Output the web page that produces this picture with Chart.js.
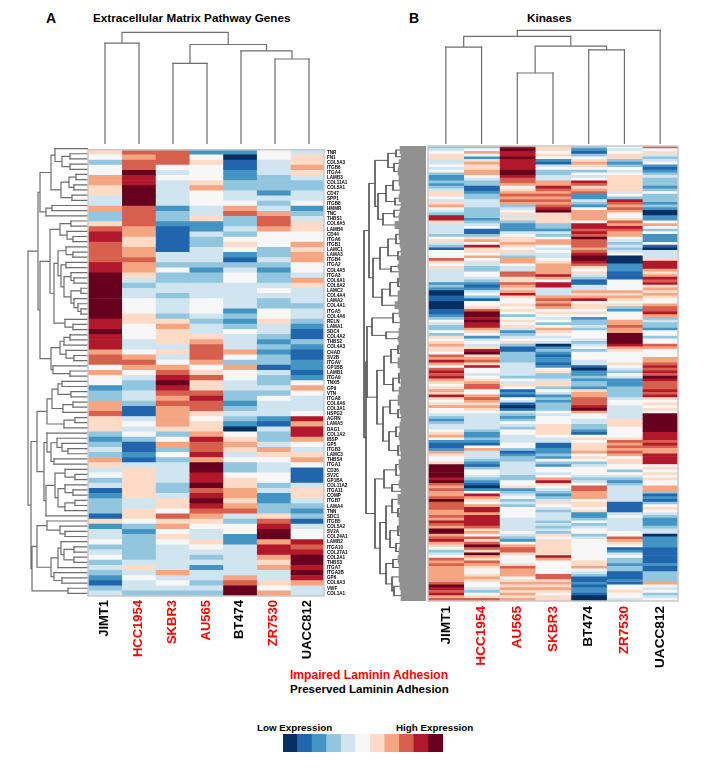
<!DOCTYPE html>
<html>
<head>
<meta charset="utf-8">
<script src="https://cdn.jsdelivr.net/npm/chart.js@4"></script>
<style>
  html, body { margin: 0; padding: 0; background: #fff; }
  body { position: relative; width: 710px; height: 781px; overflow: hidden; font-family: "Liberation Sans", Arial, sans-serif; }
  canvas { position: absolute; filter: blur(0.4px); }
  .txt { position: absolute; font-weight: bold; white-space: nowrap; line-height: 1; color: #000; }
</style>
</head>
<body>
<div class="txt" style="left:46px;top:11px;font-size:14px">A</div>
<div class="txt" style="left:93px;top:12px;font-size:11.7px">Extracellular Matrix Pathway Genes</div>
<div class="txt" style="left:409px;top:11px;font-size:14px">B</div>
<div class="txt" style="left:527px;top:12px;font-size:11.7px">Kinases</div>
<div class="txt" style="left:290px;top:669px;font-size:12.1px;color:#ff0000">Impaired Laminin Adhesion</div>
<div class="txt" style="left:290px;top:684px;font-size:11.55px">Preserved Laminin Adhesion</div>
<div class="txt" style="left:257px;top:723px;font-size:9.8px">Low Expression</div>
<div class="txt" style="left:396px;top:723px;font-size:9.8px">High Expression</div>

<canvas id="tree-top-a" width="238" height="122" style="left:88px;top:22px"></canvas>
<canvas id="tree-top-b" width="250" height="122" style="left:428px;top:22px"></canvas>
<canvas id="tree-row-a" width="64" height="450" style="left:24px;top:146px"></canvas>
<canvas id="tree-row-b" width="66" height="455" style="left:360px;top:146px"></canvas>
<canvas id="heat-a" width="272" height="532" style="left:86px;top:144px"></canvas>
<canvas id="heat-b" width="262" height="537" style="left:426px;top:144px"></canvas>
<canvas id="key" width="160" height="18" style="left:283px;top:734px"></canvas>

<script>
const RDBU = ["#053061", "#2166ac", "#4393c3", "#92c5de", "#d1e5f0", "#f7f7f7", "#fddbc7", "#f4a582", "#d6604d", "#b2182b", "#67001f"];
const IMPAIRED = ["HCC1954", "SKBR3", "AU565", "ZR7530"];

const samplesA = ["JIMT1", "HCC1954", "SKBR3", "AU565", "BT474", "ZR7530", "UACC812"];
const samplesB = ["JIMT1", "HCC1954", "AU565", "SKBR3", "BT474", "ZR7530", "UACC812"];

const genesA = ["TNR", "FN1", "COL5A3", "ITGB6", "ITGA4", "LAMB3", "COL11A1", "COL5A1", "CD47", "SPP1",
  "ITGB8", "HMMR", "TNC", "THBS1", "COL6A5", "LAMB4", "CD44", "ITGA6", "ITGB1", "LAMC1",
  "LAMA3", "ITGB4", "ITGA2", "COL4A5", "ITGA3", "COL6A1", "COL6A2", "LAMC2", "COL4A4", "LAMA2",
  "COL4A1", "ITGA5", "COL4A6", "RELN", "LAMA1", "SDC4", "COL4A2", "THBS2", "COL4A3", "CHAD",
  "SV2B", "ITGAV", "GP1BB", "LAMB1", "ITGA9", "TNXB", "GP9", "VTN", "ITGA8", "COL6A6",
  "COL3A1", "HSPG2", "AGRN", "LAMA5", "DAG1", "COL1A2", "IBSP", "GP5", "ITGB3", "LAMC3",
  "THBS4", "ITGA1", "CD36", "SV2C", "GP1BA", "COL11A2", "ITGA11", "COMP", "ITGB7", "LAMA4",
  "TNN", "SDC1", "ITGB5", "COL5A2", "SV2A", "COL24A1", "LAMB2", "ITGA10", "COL27A1", "COL2A1",
  "THBS3", "ITGA7", "ITGA2B", "GP6", "COL6A3", "VWF", "COL1A1"];

// expression levels, 0 = darkest blue, 10 = darkest red
const jimt1A = [6,5,3,5,5,7,7,6,6,4, 4,7,3,3,6,8,9,9,8,8, 8,8,9,9,10,10,10,10,10,10, 10,10,10,9,9,10,9,9,9,7, 8,8,5,7,5,5,2,3,3,7, 7,8,6,6,6,3,2,3,4,3, 7,6,4,5,3,4,1,2,3,3, 3,1,6,2,4,4,5,3,4,5, 3,4,3,2,1,3,4];
const hcc1954A = [8,7,8,8,10,9,9,10,10,10, 10,8,8,8,8,7,7,6,6,7, 7,8,7,7,6,4,3,4,4,5, 5,5,6,6,5,5,5,4,4,5, 7,8,7,5,4,3,3,4,4,3, 1,1,4,5,4,5,3,1,1,2, 1,4,6,6,6,6,6,6,4,4, 6,6,5,3,2,3,3,3,3,3, 4,6,4,5,4,4,3];
const skbr3A = [8,8,8,5,4,5,4,4,4,4, 4,2,3,3,2,1,1,1,1,1, 4,4,3,5,3,3,4,4,3,4, 4,4,3,6,7,6,6,6,4,6, 4,5,7,8,9,10,9,8,7,8, 7,7,7,7,6,3,5,7,3,5, 3,4,4,4,4,3,3,4,6,6, 5,8,6,7,5,6,5,4,4,4, 4,4,7,4,5,4,3];
const au565A = [2,5,6,5,5,5,6,7,5,5, 5,4,4,6,2,2,4,3,3,4, 4,4,3,2,3,3,4,4,4,5, 5,5,4,3,4,4,6,7,8,8, 8,7,5,6,8,6,6,8,9,8, 8,6,5,6,6,7,9,8,8,9, 7,10,10,9,9,10,8,9,10,9, 8,7,6,5,4,4,6,5,4,3, 4,2,4,4,3,4,3];
const bt474A = [2,0,1,1,2,2,3,3,4,4, 5,7,8,3,3,4,3,5,6,5, 2,1,3,4,5,5,4,4,4,4, 4,2,3,2,3,5,4,4,4,7, 5,3,7,5,5,4,4,3,3,2, 3,4,3,2,0,5,6,7,6,4, 5,3,3,5,6,6,7,7,6,7, 8,4,3,5,5,2,2,4,4,4, 4,4,4,7,8,10,10];
const zr7530A = [5,5,4,4,4,3,3,3,2,4, 3,4,7,8,8,7,5,5,5,3, 3,4,3,2,3,3,4,5,4,3, 3,5,5,6,4,4,3,2,3,2, 3,3,1,4,3,3,4,3,5,4, 4,4,2,1,4,3,3,4,7,6, 5,4,4,5,5,3,4,2,2,3, 3,6,8,9,10,10,7,9,9,7, 6,7,4,4,6,5,7];
const uacc812A = [4,6,6,7,6,4,3,3,4,4, 5,2,3,4,6,6,5,5,7,6, 7,7,5,5,4,7,6,4,4,4, 3,4,4,3,2,1,1,3,2,1, 1,2,2,1,2,5,7,5,4,4, 4,5,9,7,9,9,7,5,4,6, 7,5,1,1,1,4,6,6,4,3, 2,3,1,4,5,5,9,8,9,10, 10,9,10,9,7,4,4];

const jimt1B = [3,4,5,6,6,4,4,5,4,5, 3,2,2,3,2,3,4,6,6,5, 4,6,7,5,4,3,9,9,6,4, 4,4,4,3,5,6,4,3,1,5, 5,5,8,6,5,6,4,4,4,4, 4,2,3,2,0,0,1,1,0,0, 0,1,1,2,3,5,4,3,3,5, 3,6,5,6,7,6,6,5,8,7, 9,7,5,8,9,8,9,7,6,5, 6,7,6,9,6,5,6,7,5,5, 4,3,2,3,4,4,5,6,7,5, 2,1,1,2,7,6,5,5,6,10, 10,10,10,10,9,10,8,7,8,7, 7,8,10,8,8,8,7,7,8,7, 9,8,7,10,10,7,8,9,7,6, 5,3,4,5,8,7,8,7,7,7, 7,7,7,8,10,9,8,9,7,8];
const hcc1954B = [3,5,7,5,2,6,7,6,6,7, 7,5,4,3,3,1,1,2,3,3, 4,4,4,3,3,3,3,2,3,4, 5,1,1,3,6,7,5,9,6,6, 5,7,5,4,4,3,3,5,5,4, 3,2,1,2,4,5,3,1,5,5, 6,8,10,10,9,10,9,9,7,6, 5,2,4,5,4,6,9,10,6,7, 8,6,9,5,5,4,5,6,7,8, 8,5,5,7,8,7,6,7,6,5, 4,4,4,4,4,4,3,2,2,3, 2,1,5,7,4,4,4,3,2,1, 3,5,5,4,3,2,1,0,2,5, 9,7,6,5,7,9,9,7,9,9, 9,9,8,6,7,5,8,6,8,10, 8,6,10,7,6,8,7,6,5,5, 6,7,6,5,5,4,3,5,6,8];
const au565B = [9,10,9,9,10,9,9,9,9,10, 10,9,8,8,7,5,6,7,8,7, 8,7,3,4,5,6,4,6,3,2, 2,2,4,5,6,6,7,6,5,6, 4,3,7,7,5,4,4,8,8,6, 6,8,7,6,7,9,6,5,5,6, 5,6,5,3,5,6,5,6,4,2, 3,4,5,6,3,1,1,3,3,3, 3,4,4,4,4,4,3,5,4,6, 5,1,2,1,5,4,1,0,1,4, 3,2,3,5,4,3,5,5,4,4, 4,5,5,3,1,2,3,3,4,4, 4,4,4,3,3,5,5,6,2,3, 4,5,3,4,3,5,5,5,5,4, 4,4,4,4,5,4,3,2,5,7, 8,8,6,5,5,5,6,8,7,7, 7,5,6,7,6,7,6,7,6,7];
const skbr3B = [6,6,5,6,5,2,1,4,5,3, 3,4,4,7,7,9,8,7,8,7, 8,7,8,9,10,6,6,6,6,3, 3,2,4,3,5,7,7,5,4,5, 4,4,5,6,7,7,7,7,9,7, 5,9,9,4,4,4,7,8,7,8, 7,5,6,5,4,5,3,5,7,6, 5,4,5,4,0,2,3,2,1,2, 2,1,2,5,6,3,3,4,6,6, 3,5,4,2,3,2,3,3,3,5, 4,5,5,5,6,6,6,6,5,4, 4,1,1,2,2,3,2,5,3,2, 5,5,4,5,7,9,6,5,4,3, 2,3,4,6,5,4,3,4,4,4, 3,4,3,4,3,6,5,6,6,6, 6,6,6,9,7,5,5,5,5,5, 8,8,6,7,6,7,6,5,6,6];
const bt474B = [3,2,1,3,5,6,7,6,5,3, 5,4,5,9,8,6,7,8,2,2, 4,3,2,5,7,7,7,7,5,9, 9,8,9,8,10,8,8,8,7,8, 9,10,10,9,8,6,5,6,4,3, 1,1,4,4,7,6,7,9,5,6, 6,5,6,5,2,3,3,4,3,5, 5,5,4,3,4,5,3,5,5,5, 4,4,1,0,2,2,3,2,3,3, 2,6,7,7,8,8,8,9,10,7, 5,5,4,4,3,3,2,1,5,6, 5,6,6,6,7,5,6,5,3,4, 5,5,5,4,3,4,5,8,8,7, 7,7,5,6,6,5,6,2,2,3, 5,3,4,5,5,3,4,5,5,5, 5,5,5,5,5,6,6,7,5,4, 3,1,1,2,1,2,2,1,0,0];
const zr7530B = [5,4,5,6,6,3,2,3,5,4, 5,6,6,6,6,6,6,4,5,3, 9,8,7,8,7,5,5,6,8,7, 9,8,7,7,5,4,3,4,3,4, 5,0,0,0,2,2,2,1,1,1, 5,5,5,5,7,6,7,6,5,6, 3,2,5,5,5,7,7,8,7,7, 10,10,10,10,9,7,6,5,5,5, 5,6,5,4,3,5,4,2,2,2, 3,3,3,3,4,5,5,4,4,4, 4,4,6,6,6,5,5,5,5,6, 8,7,8,7,8,7,5,6,6,5, 5,3,5,4,3,2,3,4,4,4, 4,4,4,1,1,1,1,4,5,4, 4,4,4,4,5,5,8,7,6,5, 1,2,4,5,3,3,2,3,3,1, 1,1,2,1,5,5,6,5,5,4];
const uacc812B = [8,5,6,4,3,4,5,2,1,2, 3,4,3,3,3,2,3,5,3,3, 3,2,3,2,0,0,2,2,5,7, 5,3,5,2,2,2,5,1,0,4, 4,4,6,9,9,9,7,6,7,9, 8,9,6,7,6,7,6,5,5,7, 8,8,9,7,3,4,3,3,2,5, 5,3,5,5,8,7,5,5,5,7, 7,8,9,8,9,8,10,9,8,8, 8,9,8,9,6,5,6,5,6,5, 10,10,10,10,10,10,10,9,9,9, 8,9,8,7,7,9,9,9,9,5, 6,5,6,5,6,5,5,7,7,3, 1,2,1,3,5,6,5,4,3,2, 2,2,3,4,4,0,2,2,2,2, 1,1,1,1,1,1,2,1,1,3, 3,3,3,7,5,4,5,3,4,5];

const keyLevels = [0, 1, 2, 3, 4, 5, 6, 7, 8, 9, 10];

// dendrograms: [height, left, right], 0 = leaf, [height, n] = n leaves joined at one height
const colTreeA = [110.7, [100, 0, 0], [98.7, [80, 0, 0], [92.3, 0, [84.3, 0, 0]]]];
const colTreeB = [112.7, [106.7, [96, 0, 0], [97, [70.4, 0, 0], [93.4, 0, 0]]], 0];

const rowTreeA = [60,
  [50,
    [48,
      [37,
        [33, 0, [26, [18, 0, 0], [18, 0, 0]]],
        [27, [19, [12, 0, 0], [14, 0, 0]], [16, 0, 0]]],
      [42, [36, 0, 0], 0]],
    [48,
      [38,
        [28, [17, 0, 0], [21, 0, [15, 0, 0]]],
        [34,
          [30,
            [22, 0, [15, 0, 0]],
            [27, [22, 0, 0], [24, [17, 0, [14, 0, 0]], [17, [7, 0, 0], [14, 0, [10, 0, [7, 0, 0]]]]]]],
          [23, 0, [15, 0, 0]]]],
      [37,
        [28, [24, [18, 0, 0], 0], [22, 0, [14, 0, 0]]],
        [35, 0, [18, 0, 0]]]]],
  [57,
    [51,
      [41,
        [36, [30, [26, 0, 0], [17, 0, 0]], [25, [15, 0, 0], 0]],
        [24, [13, 0, 0], 0]],
      [44,
        [41, 0, [37, [31, 0, [26, 0, [20, 0, 0]]], [34, 0, 0]]],
        [42,
          [33, [23, 0, [13, 0, 0]], [30, [23, 0, [15, 0, 0]], [23, [13, 0, 0], 0]]],
          0]]],
    [56,
      [51,
        [41, 0, [28, 0, [23, 0, 0]]],
        [37,
          [30, [27, 0, [24, [14, 0, 0], [14, 0, 0]]], 0],
          [34, 0, [26, 0, 0]]]],
      [20, 0, 0]]]];

const rowTreeB = [62,
  [57,
    [51,
      [38, [30, [25, 3], [24, 2]], [32, [26, 3], [27, 3]]],
      [48,
        [40, [33, [26, 4], [25, 3]], [31, [26, 3], [24, 2]]],
        [43, [32, [25, 2], [26, 3]], [30, 3]]]],
    [53,
      [46, [38, [30, [26, 4], [25, 3]], [28, [24, 3], [26, 3]]], [35, [27, 2], [26, 2]]],
      [44, [36, [28, [26, 3], [25, 3]], [27, 4]], [30, 3]]]],
  [60,
    [59,
      [54, [33, [26, 3], [25, 4]], [40, [26, 3], [27, 2]]],
      [49,
        [42, [35, [28, [26, 3], [25, 3]], [27, 4]], [33, [27, [25, 4], [24, 3]], [26, 3]]],
        [43, [36, [27, 4], [28, [25, 3], [24, 3]]], [37, [30, [25, 4], [26, 3]], [28, [25, 4], [24, 3]]]]]],
    [51,
      [42, [30, [26, 4], [25, 4]], [34, [26, 3], [24, 2]]],
      [46,
        [40, [34, [27, 4], [28, [25, 3], [26, 3]]], [36, [28, [26, 4], [25, 3]], [30, [25, 3], [26, 3]]]],
        [40, [33, [27, 3], [26, 3]], [34, [26, 4], [32, [25, 3], [24, 4]]]]]]]];

Chart.defaults.font.family = '"Liberation Sans", Arial, sans-serif';
Chart.defaults.animation = false;

const heatFrame = {
  id: "heatFrame",
  afterDatasetsDraw(chart) {
    const a = chart.chartArea;
    chart.ctx.save();
    chart.ctx.strokeStyle = "#c9c9c9";
    chart.ctx.lineWidth = 1.5;
    chart.ctx.strokeRect(a.left, a.top, a.right - a.left, a.bottom - a.top);
    chart.ctx.restore();
  },
};

function renderHeatmap(id, samples, columns, rows, opts) {
  new Chart(document.getElementById(id), {
    type: "bar",
    plugins: [heatFrame],
    data: {
      labels: rows,
      datasets: samples.map((s, i) => ({
        label: s,
        data: rows.map(() => 1),
        backgroundColor: columns[i].map((v) => RDBU[v]),
        borderWidth: 0,
        barPercentage: 1,
        categoryPercentage: 1,
      })),
    },
    options: {
      indexAxis: "y",
      responsive: false,
      layout: { padding: { left: 2, top: 2 } },
      plugins: { legend: { display: false }, tooltip: { enabled: false } },
      scales: {
        x: { display: false, stacked: true, min: 0, max: samples.length },
        y: {
          stacked: true,
          position: "right",
          grid: { display: false, drawTicks: false },
          border: { display: false },
          afterFit: (scale) => { scale.width = opts.rowAxisWidth; },
          ticks: { display: opts.rowLabels, autoSkip: false, padding: 3, color: "#000", font: { size: 4.6, weight: "bold" } },
        },
        names: {
          type: "category",
          axis: "x",
          position: "bottom",
          labels: samples,
          offset: true,
          grid: { display: false, drawTicks: false },
          border: { display: false },
          afterFit: (scale) => { scale.height = 80; },
          ticks: {
            autoSkip: false,
            minRotation: 90,
            maxRotation: 90,
            padding: opts.namePadding,
            font: { size: opts.nameSize, weight: "bold" },
            color: (ctx) => (IMPAIRED.includes(samples[ctx.index]) ? "#ff0000" : "#000000"),
          },
        },
      },
    },
  });
}

// walks a tree into line segments; leaf stubs kept apart so they can be styled on their own
function treeLines(tree, place) {
  const branches = [];
  const stubs = [];
  let next = 0;
  const add = (list, pts) => { list.push(...pts.map(([h, p]) => place(h, p)), { x: NaN, y: NaN }); };
  function walk(node) {
    if (node === 0) return { h: 0, p: next++ + 0.5, leaf: true };
    if (node.length === 2) {
      const ps = [];
      for (let i = 0; i < node[1]; i++) ps.push(next++ + 0.5);
      ps.forEach((p) => add(stubs, [[0, p], [node[0], p]]));
      add(branches, [[node[0], ps[0]], [node[0], ps[ps.length - 1]]]);
      return { h: node[0], p: (ps[0] + ps[ps.length - 1]) / 2 };
    }
    const l = walk(node[1]);
    const r = walk(node[2]);
    add(l.leaf ? stubs : branches, [[l.h, l.p], [node[0], l.p]]);
    add(r.leaf ? stubs : branches, [[r.h, r.p], [node[0], r.p]]);
    add(branches, [[node[0], l.p], [node[0], r.p]]);
    return { h: node[0], p: (l.p + r.p) / 2 };
  }
  walk(tree);
  return { branches, stubs };
}

function renderTree(id, tree, place, xScale, yScale, style) {
  const { branches, stubs } = treeLines(tree, place);
  const line = (data, color, width) => ({
    data, showLine: true, borderColor: color, borderWidth: width, pointRadius: 0, clip: false, spanGaps: false, borderCapStyle: "square",
  });
  new Chart(document.getElementById(id), {
    type: "scatter",
    data: { datasets: [line(stubs, style.stubColor, style.stubWidth), line(branches, style.color, style.width)] },
    options: {
      responsive: false,
      layout: { padding: 0 },
      plugins: { legend: { display: false }, tooltip: { enabled: false } },
      scales: { x: { display: false, ...xScale }, y: { display: false, ...yScale } },
    },
  });
}

renderHeatmap("heat-a", samplesA, [jimt1A, hcc1954A, skbr3A, au565A, bt474A, zr7530A, uacc812A], genesA,
  { rowAxisWidth: 34, rowLabels: true, nameSize: 13, namePadding: 4 });
renderHeatmap("heat-b", samplesB, [jimt1B, hcc1954B, au565B, skbr3B, bt474B, zr7530B, uacc812B], jimt1B.map((_, i) => "k" + i),
  { rowAxisWidth: 10, rowLabels: false, nameSize: 13.6, namePadding: 5 });

const topStyle = { color: "#6e6e6e", width: 1.2, stubColor: "#6e6e6e", stubWidth: 1.2 };
renderTree("tree-top-a", colTreeA, (h, p) => ({ x: p, y: h }), { min: 0, max: 7 }, { min: 0, max: 121 }, topStyle);
renderTree("tree-top-b", colTreeB, (h, p) => ({ x: p, y: h }), { min: 0, max: 7 }, { min: 0, max: 121 }, topStyle);
renderTree("tree-row-a", rowTreeA, (h, p) => ({ x: h, y: p }), { min: 0, max: 64, reverse: true }, { min: 0, max: genesA.length, reverse: true }, topStyle);
renderTree("tree-row-b", rowTreeB, (h, p) => ({ x: h, y: p }), { min: 0, max: 66, reverse: true }, { min: 0, max: jimt1B.length, reverse: true },
  { color: "#5c5c5c", width: 1, stubColor: "#919191", stubWidth: 2.7 });

new Chart(document.getElementById("key"), {
  type: "bar",
  data: {
    labels: keyLevels,
    datasets: [{
      data: keyLevels.map(() => 1),
      backgroundColor: keyLevels.map((v) => RDBU[v]),
      borderWidth: 0,
      barPercentage: 1,
      categoryPercentage: 1,
    }],
  },
  options: {
    responsive: false,
    layout: { padding: 0 },
    plugins: { legend: { display: false }, tooltip: { enabled: false } },
    scales: { x: { display: false }, y: { display: false, min: 0, max: 1 } },
  },
});
</script>
</body>
</html>
